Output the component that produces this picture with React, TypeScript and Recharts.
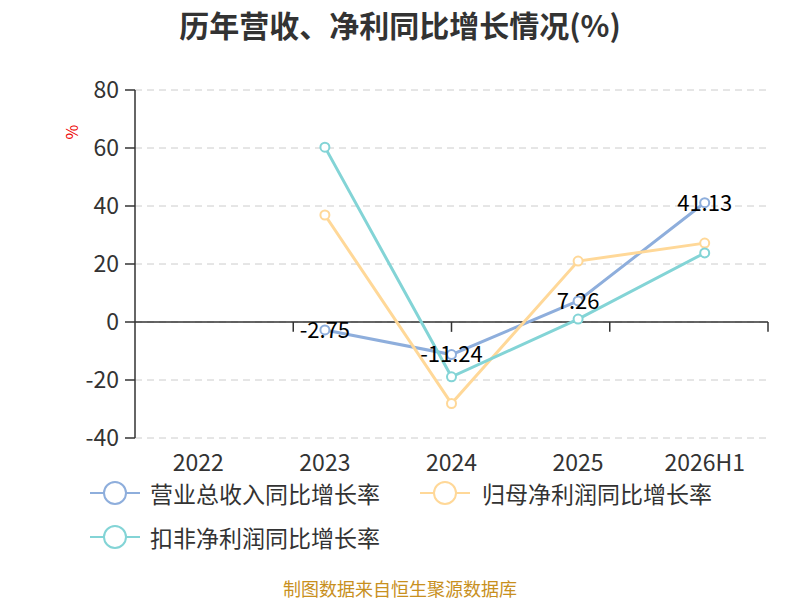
import { CartesianGrid, LabelList, Line, LineChart, ReferenceLine, XAxis, YAxis } from "recharts"

const years = ["2022", "2023", "2024", "2025", "2026H1"]
const revenueGrowth = [null, -2.75, -11.24, 7.26, 41.13]
const parentProfitGrowth = [null, 36.9, -28.1, 21.0, 27.2]
const deductedProfitGrowth = [null, 60.3, -18.9, 1.0, 23.8]
const yTicks = [-40, -20, 0, 20, 40, 60, 80]

const seriesNames = ["营业总收入同比增长率", "归母净利润同比增长率", "扣非净利润同比增长率"]
const colors = ["#8eaedc", "#ffd898", "#83d4d6"]

const font = "'Noto Sans CJK SC', 'Noto Sans', sans-serif"

const LegendIcon = ({ color }: { color: string }) => (
  <svg width="50" height="26" style={{ display: "block" }}>
    <line x1="0" y1="13" x2="50" y2="13" stroke={color} strokeWidth="2" />
    <circle cx="25" cy="13" r="11" fill="#fff" stroke={color} strokeWidth="2" />
  </svg>
)

const App = () => {
  const data = years.map((year, i) => ({
    year,
    revenue: revenueGrowth[i],
    parent: parentProfitGrowth[i],
    deducted: deductedProfitGrowth[i],
  }))

  // boundary tick marks hanging under the zero line
  const boundaries = years.map((_, i) => i + 1)

  return (
    <div style={{ position: "relative", width: 800, height: 600, fontFamily: font, background: "#fff" }}>
      <style>{`body{margin:0}`}</style>

      <div style={{ position: "absolute", top: 2, width: 800, textAlign: "center", fontSize: 30, fontWeight: "bold", color: "#333" }}>
        历年营收、净利同比增长情况(%)
      </div>

      <div style={{ position: "absolute", left: 64, top: 120, color: "#e00", fontSize: 16, transform: "rotate(-90deg)" }}>%</div>

      <div style={{ position: "absolute", left: 0, top: 0 }}>
        <LineChart width={800} height={600} data={data} margin={{ top: 90, right: 32, left: 70, bottom: 122 }}>
          <CartesianGrid vertical={false} stroke="#ccc" strokeDasharray="7 5" />
          <XAxis
            dataKey="year"
            scale="band"
            axisLine={false}
            tickLine={false}
            tickMargin={11}
            height={40}
            tick={{ fontSize: 23, fill: "#333", fontFamily: font }}
          />
          <XAxis xAxisId="b" type="number" domain={[0, 5]} allowDataOverflow hide />
          <YAxis
            domain={[-40, 80]}
            ticks={yTicks}
            width={65}
            tickSize={10}
            tickMargin={6}
            axisLine={{ stroke: "#333", strokeWidth: 1.5 }}
            tickLine={{ stroke: "#333", strokeWidth: 1.5 }}
            tick={{ fontSize: 23, fill: "#333", fontFamily: font }}
          />
          <ReferenceLine y={0} stroke="#333" strokeWidth={1.5} />
          {boundaries.map((b) => (
            <ReferenceLine
              key={b}
              xAxisId="b"
              segment={[{ x: b, y: 0 }, { x: b, y: -3.4 }]}
              stroke="#333"
              strokeWidth={1.5}
            />
          ))}
          <Line
            type="linear"
            dataKey="revenue"
            stroke={colors[0]}
            strokeWidth={3}
            dot={{ r: 4.5, fill: "#fff", stroke: colors[0], strokeWidth: 2 }}
            isAnimationActive={false}
          >
            <LabelList dataKey="revenue" position="center" fill="#000" fontSize={22} fontFamily={font} />
          </Line>
          <Line
            type="linear"
            dataKey="parent"
            stroke={colors[1]}
            strokeWidth={3}
            dot={{ r: 4.5, fill: "#fff", stroke: colors[1], strokeWidth: 2 }}
            isAnimationActive={false}
          />
          <Line
            type="linear"
            dataKey="deducted"
            stroke={colors[2]}
            strokeWidth={3}
            dot={{ r: 4.5, fill: "#fff", stroke: colors[2], strokeWidth: 2 }}
            isAnimationActive={false}
          />
        </LineChart>
      </div>

      <div style={{ position: "absolute", left: 90, top: 480, fontSize: 23, color: "#333", lineHeight: "26px" }}>
        <div style={{ display: "flex", alignItems: "center" }}>
          <LegendIcon color={colors[0]} />
          <span style={{ marginLeft: 10, width: 270 }}>{seriesNames[0]}</span>
          <LegendIcon color={colors[1]} />
          <span style={{ marginLeft: 12 }}>{seriesNames[1]}</span>
        </div>
        <div style={{ display: "flex", alignItems: "center", marginTop: 18 }}>
          <LegendIcon color={colors[2]} />
          <span style={{ marginLeft: 10 }}>{seriesNames[2]}</span>
        </div>
      </div>

      <div style={{ position: "absolute", top: 575, width: 800, textAlign: "center", fontSize: 18, color: "#c8901e" }}>
        制图数据来自恒生聚源数据库
      </div>
    </div>
  )
}

export default App
